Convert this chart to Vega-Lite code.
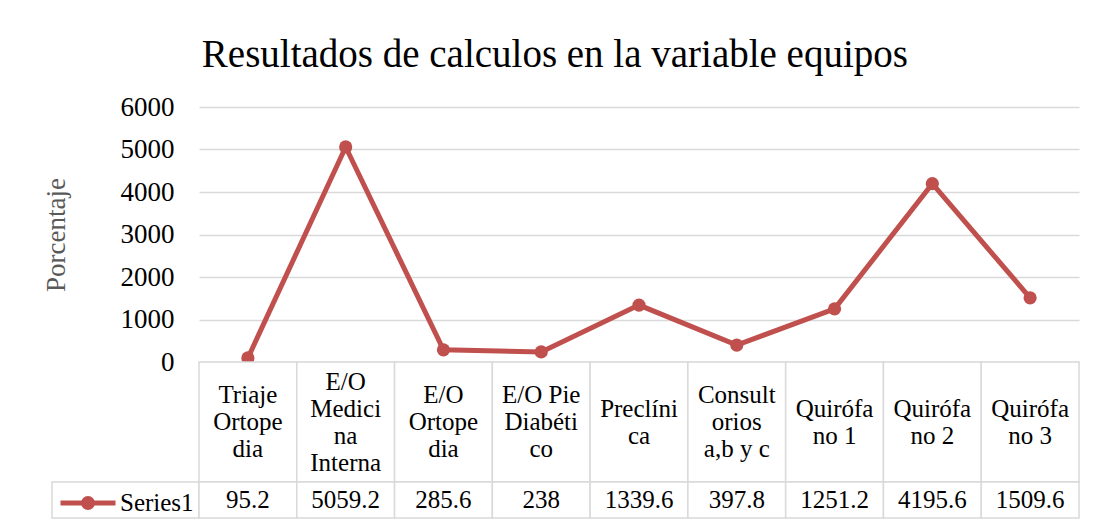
{
  "$schema": "https://vega.github.io/schema/vega-lite/v6.json",
  "background": "white",
  "padding": {"left": 42, "top": 36, "right": 5, "bottom": 5},
  "title": {"text": "Resultados de calculos en la variable equipos", "fontSize": 39, "font": "Liberation Serif", "fontWeight": "normal", "color": "#000000", "anchor": "middle", "offset": 18, "dx": -6},
  "datasets": {
    "equipos": [
      {"label": "Triaje\nOrtope\ndia", "value": 95.2},
      {"label": "E/O\nMedici\nna\nInterna", "value": 5059.2},
      {"label": "E/O\nOrtope\ndia", "value": 285.6},
      {"label": "E/O Pie\nDiabéti\nco", "value": 238},
      {"label": "Preclíni\nca", "value": 1339.6},
      {"label": "Consult\norios\na,b y c", "value": 397.8},
      {"label": "Quirófa\nno 1", "value": 1251.2},
      {"label": "Quirófa\nno 2", "value": 4195.6},
      {"label": "Quirófa\nno 3", "value": 1509.6}
    ],
    "serie": [{"series": "Series1"}],
    "vacio": []
  },
  "columns": 2,
  "spacing": 0,
  "bounds": "flush",
  "concat": [
    {"data": {"name": "vacio"}, "width": 147, "height": 255, "mark": "rect", "encoding": {}},
    {
      "data": {"name": "equipos"},
      "width": 880,
      "height": 255,
      "transform": [{"lookup": "label", "from": {"data": {"name": "serie"}, "key": "series", "fields": ["series"]}, "default": "Series1", "as": "serie_tmp"}],
      "encoding": {
        "x": {"field": "label", "type": "nominal", "sort": null, "scale": {"type": "point", "padding": 0.5}, "axis": null},
        "y": {"field": "value", "type": "quantitative", "scale": {"domain": [0, 6000]},
          "axis": {"values": [0, 1000, 2000, 3000, 4000, 5000, 6000], "format": "d", "title": "Porcentaje", "titleColor": "#595959", "titleFontSize": 27, "titleFontWeight": "normal", "titlePadding": 50, "labelFontSize": 27, "labelColor": "#000000", "labelPadding": 25, "ticks": false, "domain": false, "grid": true, "gridColor": "#D9D9D9", "gridWidth": 1.5}},
        "color": {"field": "serie_tmp", "type": "nominal", "scale": {"range": ["#C0504D"]},
          "legend": {"title": null, "orient": "none", "legendX": 6, "legendY": 366, "padding": 0,
            "symbolType": "M-1,0H1M0.16,0A0.16,0.16,0,1,1,-0.16,0A0.16,0.16,0,1,1,0.16,0Z",
            "symbolSize": 3025, "symbolStrokeWidth": 5, "symbolStrokeColor": "#C0504D", "symbolFillColor": "#C0504D", "symbolOpacity": 1,
            "labelFontSize": 25, "labelColor": "#000000", "labelOffset": 2, "labelFont": "Liberation Serif",
            "encode": {"symbols": {"update": {"shape": {"value": "M-1,0H1M0.16,0A0.16,0.16,0,1,1,-0.16,0A0.16,0.16,0,1,1,0.16,0Z"}, "size": {"value": 3025}, "fill": {"value": "#C0504D"}, "stroke": {"value": "#C0504D"}, "strokeWidth": {"value": 5}, "opacity": {"value": 1}, "strokeOpacity": {"value": 1}, "fillOpacity": {"value": 1}}}}}
        }
      },
      "layer": [
        {"mark": {"type": "line", "strokeWidth": 5}},
        {"mark": {"type": "point", "filled": true, "opacity": 1, "size": 175}}
      ]
    },
    {"data": {"name": "vacio"}, "width": 147, "height": 120, "mark": "rect", "encoding": {}},
    {
      "data": {"name": "equipos"},
      "width": 880,
      "height": 120,
      "layer": [
        {
          "mark": {"type": "rect", "fill": "white", "stroke": "#D9D9D9", "strokeWidth": 1.5},
          "encoding": {"x": {"field": "label", "type": "nominal", "sort": null, "scale": {"type": "band", "paddingInner": 0, "paddingOuter": 0}, "axis": null}}
        },
        {
          "mark": {"type": "text", "fontSize": 25, "lineHeight": 27, "lineBreak": "\n", "baseline": "middle", "align": "center", "color": "#000000",
            "dy": {"expr": "-(length(split(datum.label, '\\n')) - 1) * 13.5"}},
          "encoding": {"x": {"field": "label", "type": "nominal", "sort": null, "band": 0.5}, "text": {"field": "label"}}
        }
      ]
    },
    {
      "data": {"name": "serie"},
      "width": 147,
      "height": 36,
      "mark": {"type": "rect", "fill": "white", "stroke": "#D9D9D9", "strokeWidth": 1.5},
      "encoding": {}
    },
    {
      "data": {"name": "equipos"},
      "width": 880,
      "height": 36,
      "layer": [
        {
          "mark": {"type": "rect", "fill": "white", "stroke": "#D9D9D9", "strokeWidth": 1.5},
          "encoding": {"x": {"field": "label", "type": "nominal", "sort": null, "scale": {"type": "band", "paddingInner": 0, "paddingOuter": 0}, "axis": null}}
        },
        {
          "mark": {"type": "text", "fontSize": 25, "baseline": "middle", "align": "center", "color": "#000000"},
          "encoding": {"x": {"field": "label", "type": "nominal", "sort": null, "band": 0.5}, "text": {"field": "value", "type": "quantitative"}}
        }
      ]
    }
  ],
  "config": {
    "font": "Liberation Serif",
    "view": {"stroke": null},
    "axis": {"labelFont": "Liberation Serif", "titleFont": "Liberation Serif"}
  }
}
